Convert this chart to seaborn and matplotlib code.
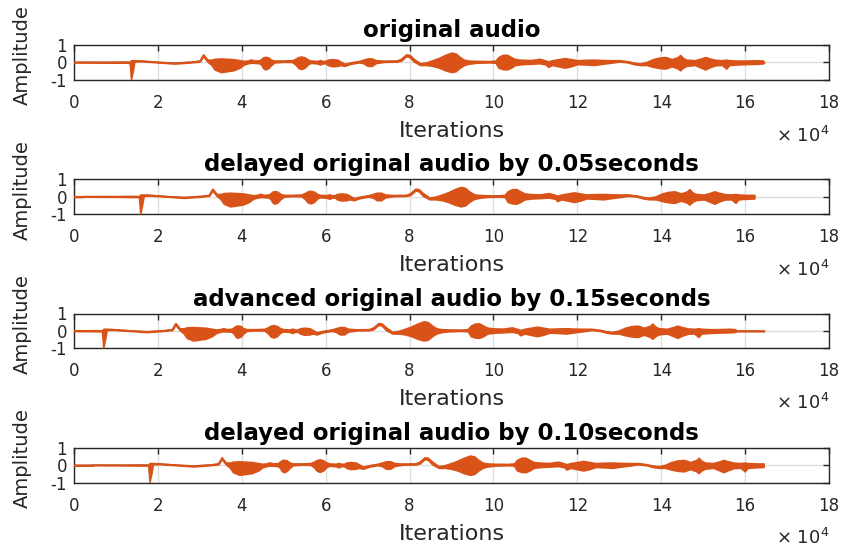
import numpy as np
import matplotlib
matplotlib.use("Agg")
import matplotlib.pyplot as plt
import seaborn as sns

# ---------------- data ----------------
fs = 44100  # sample rate (Hz)
titles = ["original audio",
          "delayed original audio by 0.05seconds",
          "advanced original audio by 0.15seconds",
          "delayed original audio by 0.10seconds"]
shifts_sec = [0.0, 0.05, -0.15, 0.10]   # + delay, - advance

# envelope of the original waveform (x in units of 1e4 samples)
env_x = [0.0, 0.8, 1.2, 1.33, 1.36, 1.40, 1.44, 1.6, 2.0, 2.4, 2.8, 3.0, 3.08, 3.18,
         3.28, 3.35, 3.5, 3.65, 3.8, 3.95, 4.05, 4.15, 4.22, 4.3, 4.42, 4.47, 4.51, 4.56,
         4.63, 4.70, 4.78, 5.0, 5.2, 5.28, 5.35, 5.42, 5.50, 5.58, 5.65, 5.80, 5.87, 5.92,
         6.0, 6.05, 6.15, 6.28, 6.35, 6.45, 6.6, 6.8, 6.9, 7.0, 7.1, 7.2, 7.4, 7.7,
         7.8, 7.92, 8.0, 8.1, 8.25, 8.4, 8.55, 8.7, 8.85, 9.0, 9.1, 9.2, 9.3, 9.4,
         9.6, 9.9, 10.05, 10.12, 10.22, 10.32, 10.42, 10.52, 10.7, 10.9, 11.1, 11.25,
         11.3, 11.4, 11.6, 11.7, 11.85, 12.0, 12.2, 12.4, 12.6, 12.8, 13.0, 13.2,
         13.35, 13.5, 13.65, 13.8, 13.95, 14.1, 14.25, 14.4, 14.45, 14.52, 14.6, 14.8,
         14.95, 15.05, 15.15, 15.3, 15.45, 15.55, 15.62, 15.8, 16.0, 16.3, 16.42, 16.45]
env_hi = [0.03, 0.03, 0.04, 0.03, 0.12, 0.12, 0.12, 0.10, 0.03, -0.02, 0.04, 0.10, 0.45, 0.15,
          0.15, 0.20, 0.22, 0.20, 0.18, 0.12, 0.08, 0.10, 0.16, 0.10, 0.12, 0.20, 0.28, 0.31,
          0.28, 0.15, 0.10, 0.10, 0.12, 0.20, 0.30, 0.33, 0.28, 0.15, 0.10, 0.08, 0.13, 0.08,
          0.08, 0.15, 0.18, 0.15, 0.05, -0.08, 0.00, 0.08, 0.15, 0.22, 0.22, 0.12, 0.09, 0.10,
          0.20, 0.45, 0.42, 0.20, -0.05, 0.00, 0.12, 0.25, 0.42, 0.55, 0.50, 0.30, 0.15, 0.10,
          0.08, 0.07, 0.10, 0.30, 0.42, 0.43, 0.30, 0.18, 0.14, 0.13, 0.20, 0.10,
          0.05, 0.12, 0.20, 0.24, 0.18, 0.12, 0.14, 0.15, 0.13, 0.12, 0.12, 0.06,
          -0.02, -0.06, 0.02, 0.18, 0.27, 0.30, 0.18, 0.30, 0.42, 0.25, 0.15, 0.12,
          0.22, 0.30, 0.22, 0.14, 0.12, 0.15, 0.12, 0.10, 0.10, 0.12, 0.10, 0.02]
env_lo = [0.00, -0.01, -0.02, -0.02, -0.95, -0.50, 0.05, 0.06, 0.00, -0.07, 0.00, 0.05, 0.35, 0.05,
          -0.15, -0.40, -0.55, -0.50, -0.45, -0.30, -0.12, -0.05, -0.02, -0.03, -0.05, -0.15, -0.32, -0.40,
          -0.33, -0.15, 0.00, 0.03, 0.02, -0.12, -0.32, -0.38, -0.30, -0.10, -0.03, -0.06, -0.12, -0.06,
          -0.05, -0.15, -0.22, -0.20, -0.15, -0.20, -0.08, 0.00, -0.05, -0.20, -0.20, -0.04, 0.03, 0.04,
          0.10, 0.35, 0.30, 0.05, -0.15, -0.15, -0.20, -0.30, -0.45, -0.55, -0.50, -0.30, -0.15, -0.08,
          -0.02, 0.00, -0.02, -0.30, -0.38, -0.40, -0.30, -0.15, -0.10, -0.08, -0.05, -0.12,
          -0.25, -0.15, -0.25, -0.30, -0.22, -0.10, -0.12, -0.15, -0.08, -0.02, 0.05, 0.00,
          -0.10, -0.15, -0.15, -0.25, -0.32, -0.35, -0.22, -0.35, -0.45, -0.30, -0.20, -0.15,
          -0.30, -0.40, -0.28, -0.16, -0.15, -0.35, -0.15, -0.12, -0.10, -0.08, -0.06, -0.02]
pad_hi, pad_lo = 0.02, -0.02   # zero padding level (flat line)
xticks = [0, 2, 4, 6, 8, 10, 12, 14, 16, 18]
yticks = [-1, 0, 1]

# ---------------- style ----------------
sns.set_style("white")
plt.rcParams["font.family"] = ["DejaVu Sans"]
plt.rcParams["mathtext.fontset"] = "dejavusans"

ORANGE = "#D95319"
BLUEGRAY = "#7f8796"
DARK = "#262626"

fig = plt.figure(figsize=(8.48, 5.48), dpi=100)
W, H = 848.0, 548.0
left_px, right_px = 74.0, 829.0
boxes = [(44.7, 80.0), (179.0, 214.3), (313.5, 348.3), (447.7, 482.7)]

x0 = np.array(env_x)
hi0 = np.array(env_hi)
lo0 = np.array(env_lo)
end = x0[-1]

for i, (top, bot) in enumerate(boxes):
    ax = fig.add_axes([left_px / W, 1 - bot / H, (right_px - left_px) / W, (bot - top) / H])
    sh = shifts_sec[i] * fs / 1e4
    xs = x0 + sh
    keep = (xs >= 0) & (xs <= end)
    x, hi, lo = xs[keep], hi0[keep], lo0[keep]
    if sh > 0:
        x = np.concatenate([[0.0, sh], x])
        hi = np.concatenate([[pad_hi, pad_hi], hi])
        lo = np.concatenate([[pad_lo, pad_lo], lo])
    elif sh < 0:
        x = np.concatenate([[0.0], x, [end]])
        hi = np.concatenate([[hi[0]], hi, [pad_hi]])
        lo = np.concatenate([[lo[0]], lo, [pad_lo]])
    mid = (hi + lo) / 2
    sns.lineplot(x=x, y=mid, ax=ax, color=BLUEGRAY, lw=0.8, zorder=2)
    ax.fill_between(x, lo, hi, color=ORANGE, edgecolor=ORANGE, lw=1.2, zorder=3)

    ax.set_xlim(0, 18)
    ax.set_ylim(-1, 1)
    ax.set_xticks(xticks)
    ax.set_xticklabels([str(t) for t in xticks])
    ax.set_yticks(yticks)
    ax.set_yticklabels([str(t) for t in yticks])
    ax.grid(True, color="#dedede", lw=1.0, zorder=0)
    ax.set_axisbelow(True)
    ax.tick_params(direction="in", top=True, right=True, length=4, width=1,
                   color=DARK, labelsize=12, labelcolor=DARK)
    ax.tick_params(axis="x", pad=10)
    ax.tick_params(axis="y", pad=5)
    for s in ax.spines.values():
        s.set_color(DARK)
        s.set_linewidth(1.0)
        s.set_visible(True)
    ax.set_title(titles[i], fontsize=16.5, fontweight="bold", color="black", pad=5.5)
    ax.set_xlabel("Iterations", fontsize=16, color=DARK, labelpad=6.5)
    ax.set_ylabel("Amplitude", fontsize=14, color=DARK)
    ax.yaxis.set_label_coords(-0.0556, 0.70)
    ax.text(1.0, -1.58, r"$\times\ 10^{4}$", transform=ax.transAxes, ha="right",
            va="center", fontsize=13, color=DARK)

fig.savefig("out.png", dpi=100)
